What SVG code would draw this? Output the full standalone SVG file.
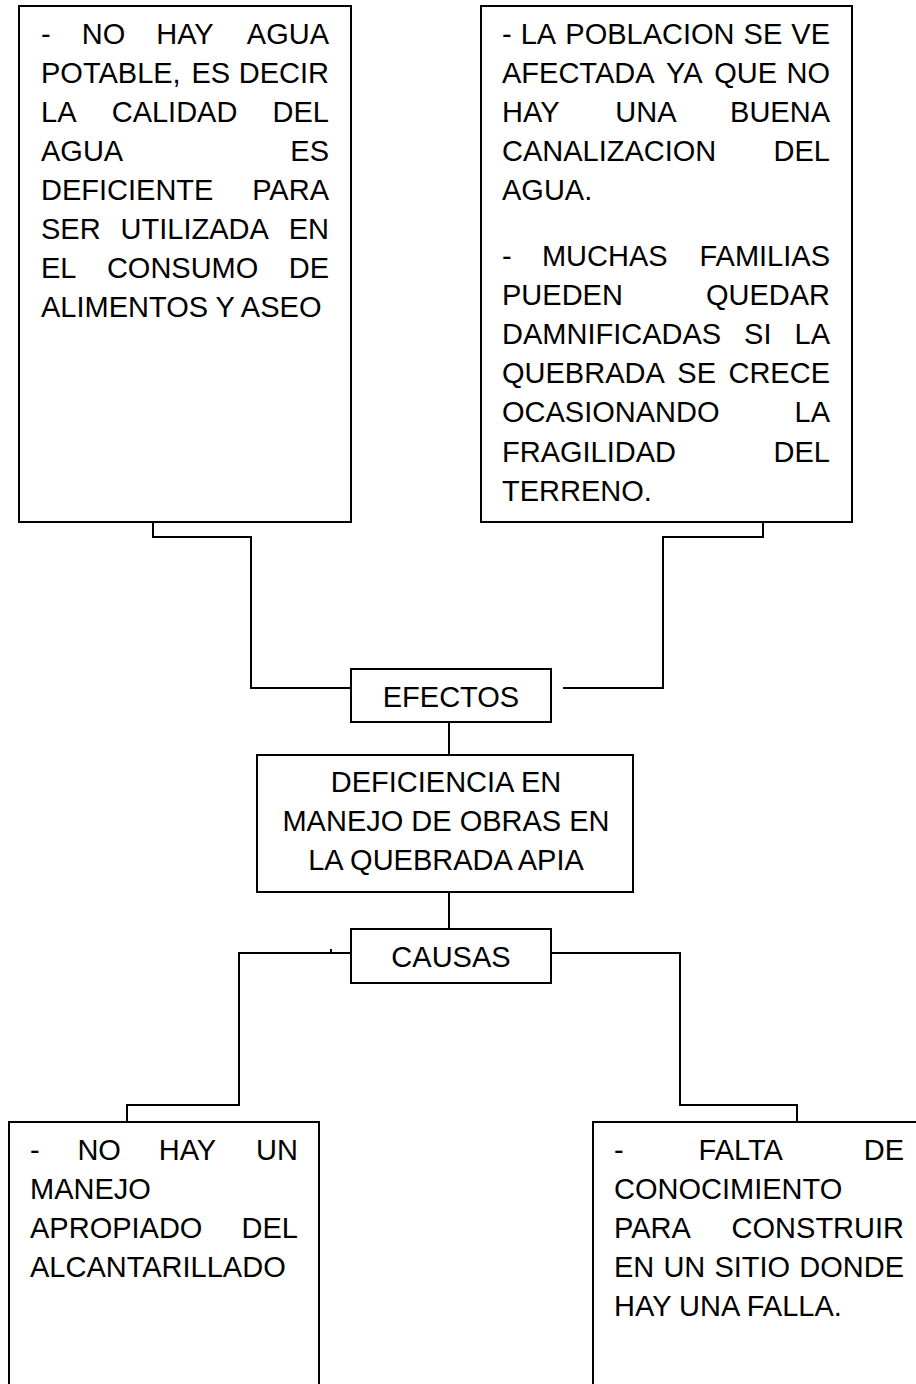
<svg xmlns="http://www.w3.org/2000/svg" width="916" height="1384" viewBox="0 0 916 1384">
<style>
.box{fill:#fff;stroke:#000;stroke-width:2}
.con{fill:none;stroke:#000;stroke-width:2}
text{font-family:"Liberation Sans",Arial,sans-serif;font-size:29px;fill:#000}
.c{text-anchor:middle}
.e{text-anchor:end}
</style>
<rect width="916" height="1384" fill="#fff"/>
<g id="connectors">
<path class="con" d="M153 522V537H251V688H351"/>
<path class="con" d="M563 688H663V537H763V522"/>
<path class="con" d="M449 722V755"/>
<path class="con" d="M449 892V929"/>
<path class="con" d="M351 953H239V1105H127V1122M331 949V953"/>
<path class="con" d="M551 953H680V1105H797V1122"/>
</g>
<g id="efecto1">
<rect class="box" x="19" y="6" width="332" height="516"/>
<text><tspan x="41" y="43.5">-</tspan><tspan x="81.7" y="43.5">NO</tspan><tspan x="156.2" y="43.5">HAY</tspan><tspan x="329" y="43.5" class="e">AGUA</tspan></text>
<text><tspan x="41" y="82.6">POTABLE,</tspan><tspan x="191.5" y="82.6">ES</tspan><tspan x="329" y="82.6" class="e">DECIR</tspan></text>
<text><tspan x="41" y="121.7">LA</tspan><tspan x="111.7" y="121.7">CALIDAD</tspan><tspan x="329" y="121.7" class="e">DEL</tspan></text>
<text><tspan x="41" y="160.8">AGUA</tspan><tspan x="329" y="160.8" class="e">ES</tspan></text>
<text><tspan x="41" y="199.9">DEFICIENTE</tspan><tspan x="329" y="199.9" class="e">PARA</tspan></text>
<text><tspan x="41" y="239">SER</tspan><tspan x="120.6" y="239">UTILIZADA</tspan><tspan x="329" y="239" class="e">EN</tspan></text>
<text><tspan x="41" y="278.1">EL</tspan><tspan x="106.9" y="278.1">CONSUMO</tspan><tspan x="329" y="278.1" class="e">DE</tspan></text>
<text x="41" y="317.2">ALIMENTOS Y ASEO</text>
</g>
<g id="efecto2">
<rect class="box" x="481" y="6" width="371" height="516"/>
<text><tspan x="502" y="43.5">-</tspan><tspan x="520.7" y="43.5">LA</tspan><tspan x="565.3" y="43.5">POBLACION</tspan><tspan x="743.6" y="43.5">SE</tspan><tspan x="830" y="43.5" class="e">VE</tspan></text>
<text><tspan x="502" y="82.5">AFECTADA</tspan><tspan x="666.1" y="82.5">YA</tspan><tspan x="714.2" y="82.5">QUE</tspan><tspan x="830" y="82.5" class="e">NO</tspan></text>
<text><tspan x="502" y="121.5">HAY</tspan><tspan x="615.3" y="121.5">UNA</tspan><tspan x="830" y="121.5" class="e">BUENA</tspan></text>
<text><tspan x="502" y="160.6">CANALIZACION</tspan><tspan x="830" y="160.6" class="e">DEL</tspan></text>
<text x="502" y="199.6">AGUA.</text>
<text><tspan x="502" y="266.3">-</tspan><tspan x="541.9" y="266.3">MUCHAS</tspan><tspan x="830" y="266.3" class="e">FAMILIAS</tspan></text>
<text><tspan x="502" y="305.3">PUEDEN</tspan><tspan x="830" y="305.3" class="e">QUEDAR</tspan></text>
<text><tspan x="502" y="344.4">DAMNIFICADAS</tspan><tspan x="744.1" y="344.4">SI</tspan><tspan x="830" y="344.4" class="e">LA</tspan></text>
<text><tspan x="502" y="383.4">QUEBRADA</tspan><tspan x="677.3" y="383.4">SE</tspan><tspan x="830" y="383.4" class="e">CRECE</tspan></text>
<text><tspan x="502" y="422.4">OCASIONANDO</tspan><tspan x="830" y="422.4" class="e">LA</tspan></text>
<text><tspan x="502" y="461.5">FRAGILIDAD</tspan><tspan x="830" y="461.5" class="e">DEL</tspan></text>
<text x="502" y="500.5">TERRENO.</text>
</g>
<g id="efectos">
<rect class="box" x="351" y="669" width="200" height="53"/>
<text class="c" x="451" y="707">EFECTOS</text>
</g>
<g id="problema">
<rect class="box" x="257" y="755" width="376" height="137"/>
<text class="c" x="446" y="792">DEFICIENCIA EN</text>
<text class="c" x="446" y="831">MANEJO DE OBRAS EN</text>
<text class="c" x="446" y="870">LA QUEBRADA APIA</text>
</g>
<g id="causas">
<rect class="box" x="351" y="929" width="200" height="54"/>
<text class="c" x="451" y="967">CAUSAS</text>
</g>
<g id="causa1">
<rect class="box" x="9" y="1122" width="310" height="290"/>
<text><tspan x="30" y="1160">-</tspan><tspan x="77.4" y="1160">NO</tspan><tspan x="158.7" y="1160">HAY</tspan><tspan x="298" y="1160" class="e">UN</tspan></text>
<text x="30" y="1199">MANEJO</text>
<text><tspan x="30" y="1238">APROPIADO</tspan><tspan x="298" y="1238" class="e">DEL</tspan></text>
<text x="30" y="1277">ALCANTARILLADO</text>
</g>
<g id="causa2">
<rect class="box" x="593" y="1122" width="340" height="290"/>
<text><tspan x="614" y="1160">-</tspan><tspan x="698.6" y="1160">FALTA</tspan><tspan x="904" y="1160" class="e">DE</tspan></text>
<text x="614" y="1199">CONOCIMIENTO</text>
<text><tspan x="614" y="1238">PARA</tspan><tspan x="904" y="1238" class="e">CONSTRUIR</tspan></text>
<text><tspan x="614" y="1277">EN</tspan><tspan x="663.4" y="1277">UN</tspan><tspan x="714.4" y="1277">SITIO</tspan><tspan x="904" y="1277" class="e">DONDE</tspan></text>
<text x="614" y="1316">HAY UNA FALLA.</text>
</g>
</svg>
